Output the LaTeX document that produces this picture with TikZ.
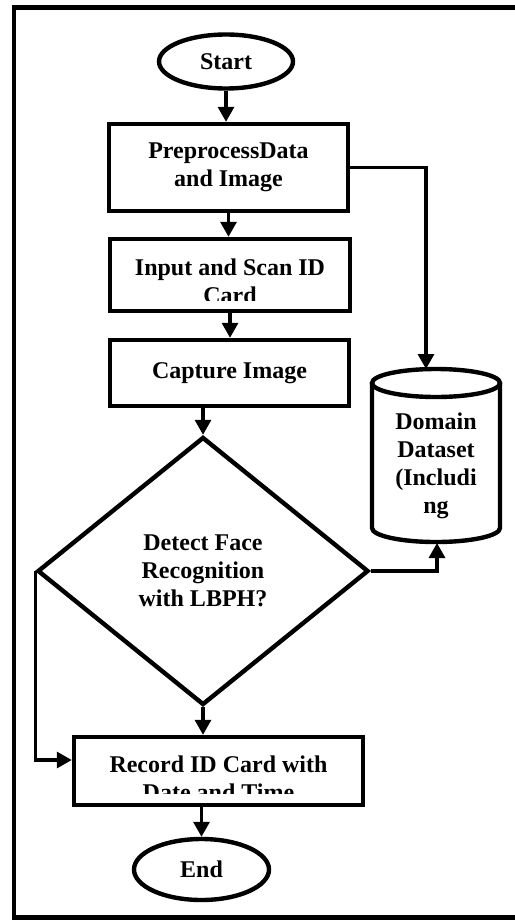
\documentclass[tikz,border=0pt]{standalone}
\usepackage{fontspec}
\setmainfont{Liberation Serif}
\usetikzlibrary{shapes.geometric, arrows.meta}
\tikzset{
conn/.style={-{Triangle[length=7.5pt, width=8pt]}, line width=1.6pt}, % arrows between the blocks
terminal/.style={ellipse, draw, line width=2.2pt, inner sep=0pt}, % start and end
procbox/.style={rectangle, draw, line width=2.2pt, inner sep=0pt, align=center}, % process steps
decision/.style={diamond, draw, line width=2.2pt, inner sep=0pt, align=center}, % the question
every node/.style={font=\bfseries\fontsize{12}{14}\selectfont},
}
\begin{document}
\begin{tikzpicture}[x=0.5pt, y=-0.5pt]
\useasboundingbox (0,0) rectangle (514,920);
\draw[line width=2.2pt] (530,7.5) -- (14,7.5) -- (14,917.5) -- (530,917.5);
\node[terminal, minimum width=67pt, minimum height=27pt] (start) at (226,61.5) {Start};
\node[procbox, minimum width=119.5pt, minimum height=43.5pt] (prep) at (228.5,167.5) {PreprocessData\\and Image};
\node[procbox, minimum width=120pt, minimum height=36pt] (scan) at (230,275) {};
\begin{scope}
\clip (108,237) rectangle (352,300);
\node[align=center] (scantext) at (230,281) {Input and Scan ID\\Card};
\end{scope}
\node[procbox, minimum width=119.5pt, minimum height=33pt] (capture) at (229.5,373) {Capture Image};
\node[decision, minimum width=165.5pt, minimum height=134pt] (detect) at (203,571) {Detect Face\\Recognition\\with LBPH?};
\node[procbox, minimum width=144.5pt, minimum height=34pt] (record) at (218.5,771) {};
\begin{scope}
\clip (72,735) rectangle (365,793);
\node[align=center] (recordtext) at (218.5,778) {Record ID Card with\\Date and Time};
\end{scope}
\node[terminal, minimum width=67.5pt, minimum height=30.5pt] (finish) at (201.5,869.5) {End};
% database
\draw[line width=2.2pt] (372,383) -- (372,528) arc[start angle=180, end angle=360, x radius=32pt, y radius=7pt] -- (500,383);
\draw[line width=2.2pt] (436,383) ellipse [x radius=32pt, y radius=7pt];
\node[align=center] (dataset) at (436,466) {Domain\\Dataset\\(Includi\\ng};
\coordinate (dbin) at (426,369);
\coordinate (dbout) at (437,543);
% connectors
\draw[conn] (start.south) -- (start.south |- prep.north);
\draw[conn] (prep.south) -- (prep.south |- scan.north);
\draw[conn] (scan.south) -- (scan.south |- capture.north);
\draw[conn] (capture.south -| detect.north) -- (detect.north);
\draw[conn] (detect.south) -- (detect.south |- record.north);
\draw[conn] (record.south -| finish.north) -- (finish.north);
\draw[conn] (prep.east) -| (dbin);
\draw[conn] (detect.east) -| (dbout);
\draw[conn] (detect.west) |- ([yshift=5.5pt]record.west);
\end{tikzpicture}
\end{document}
